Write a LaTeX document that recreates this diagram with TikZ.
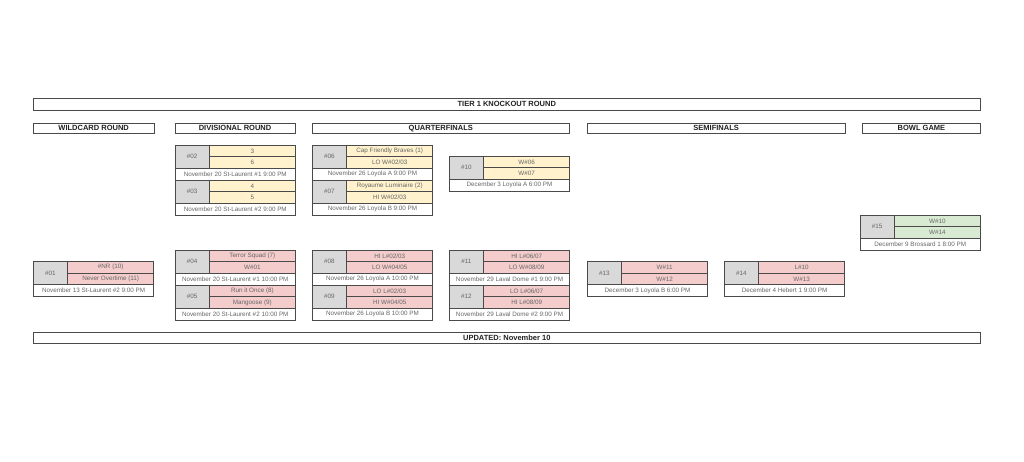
\documentclass[tikz,border=0pt]{standalone}
\usepackage{fontspec}
\setmainfont{Liberation Sans}
\definecolor{ycol}{HTML}{FFF2CC}
\definecolor{rcol}{HTML}{F4CCCC}
\definecolor{gcol}{HTML}{D9EAD3}
\definecolor{idcol}{HTML}{D9D9D9}
\definecolor{bcol}{HTML}{4A4A4A}
\definecolor{tcol}{HTML}{666666}
\definecolor{hcol}{HTML}{222222}
\tikzset{
 cell/.style={draw=bcol, line width=0.7pt, outer sep=0pt, inner sep=0pt, anchor=north west, text=tcol, font=\fontsize{6.3}{7}\selectfont},
 idcell/.style={cell, fill=idcol, minimum width=34.3pt, minimum height=23.34pt},
 teamcell/.style={cell, minimum width=86.2pt, minimum height=11.67pt},
 datecell/.style={cell, fill=white, minimum width=120.5pt, minimum height=11.67pt},
 hdr/.style={draw=bcol, line width=0.8pt, fill=white, outer sep=0pt, inner sep=0pt, anchor=north west, text=hcol, font=\bfseries\fontsize{7.5}{9}\selectfont},
}
\newcommand\gamebox[7]{%
 \node[idcell] (g#1id) at (#2,#3) {\##1};
 \node[teamcell, fill=#4] (g#1a) at (g#1id.north east) {#5};
 \node[teamcell, fill=#4] (g#1b) at (g#1a.south west) {#6};
 \node[datecell] (g#1d) at (g#1id.south west) {#7};
}
\begin{document}
\begin{tikzpicture}[x=1pt,y=-1pt]
\useasboundingbox[fill=white] (0,0) rectangle (1024,461);
\node[hdr, minimum width=947pt, minimum height=11.7pt] (tier) at (33.3,98.3) {TIER 1 KNOCKOUT ROUND};
\node[hdr, minimum width=120.7pt, minimum height=10pt] (hwc) at (33.3,123.3) {WILDCARD ROUND};
\node[hdr, minimum width=120pt, minimum height=10pt] (hdiv) at (175,123.3) {DIVISIONAL ROUND};
\node[hdr, minimum width=257pt, minimum height=10pt] (hqf) at (312.3,123.3) {QUARTERFINALS};
\node[hdr, minimum width=257.7pt, minimum height=10pt] (hsf) at (587.3,123.3) {SEMIFINALS};
\node[hdr, minimum width=117.5pt, minimum height=10pt] (hbowl) at (862.7,123.3) {BOWL GAME};
\node[hdr, minimum width=947pt, minimum height=11pt] (upd) at (33.3,332.3) {UPDATED: November 10};
\gamebox{01}{33.3}{261.5}{rcol}{\#NR (10)}{Never Overtime (11)}{November 13 St-Laurent \#2 9:00 PM}
\gamebox{02}{175}{145}{ycol}{3}{6}{November 20 St-Laurent \#1 9:00 PM}
\gamebox{03}{175}{180}{ycol}{4}{5}{November 20 St-Laurent \#2 9:00 PM}
\gamebox{04}{175}{250}{rcol}{Terror Squad (7)}{W\#01}{November 20 St-Laurent \#1 10:00 PM}
\gamebox{05}{175}{285}{rcol}{Run it Once (8)}{Mangoose (9)}{November 20 St-Laurent \#2 10:00 PM}
\gamebox{06}{312.3}{145}{ycol}{Cap Friendly Braves (1)}{LO W\#02/03}{November 26 Loyola A 9:00 PM}
\gamebox{07}{312.3}{180}{ycol}{Royaume Luminaire (2)}{HI W\#02/03}{November 26 Loyola B 9:00 PM}
\gamebox{08}{312.3}{250}{rcol}{HI L\#02/03}{LO W\#04/05}{November 26 Loyola A 10:00 PM}
\gamebox{09}{312.3}{285}{rcol}{LO L\#02/03}{HI W\#04/05}{November 26 Loyola B 10:00 PM}
\gamebox{10}{449.3}{156}{ycol}{W\#06}{W\#07}{December 3 Loyola A 6:00 PM}
\gamebox{11}{449.3}{250}{rcol}{HI L\#06/07}{LO W\#08/09}{November 29 Laval Dome \#1 9:00 PM}
\gamebox{12}{449.3}{285}{rcol}{LO L\#06/07}{HI L\#08/09}{November 29 Laval Dome \#2 9:00 PM}
\gamebox{13}{587.3}{261.5}{rcol}{W\#11}{W\#12}{December 3 Loyola B 6:00 PM}
\gamebox{14}{724.3}{261.5}{rcol}{L\#10}{W\#13}{December 4 Hebert 1 9:00 PM}
\gamebox{15}{860}{215}{gcol}{W\#10}{W\#14}{December 9 Brossard 1 8:00 PM}
\end{tikzpicture}
\end{document}
